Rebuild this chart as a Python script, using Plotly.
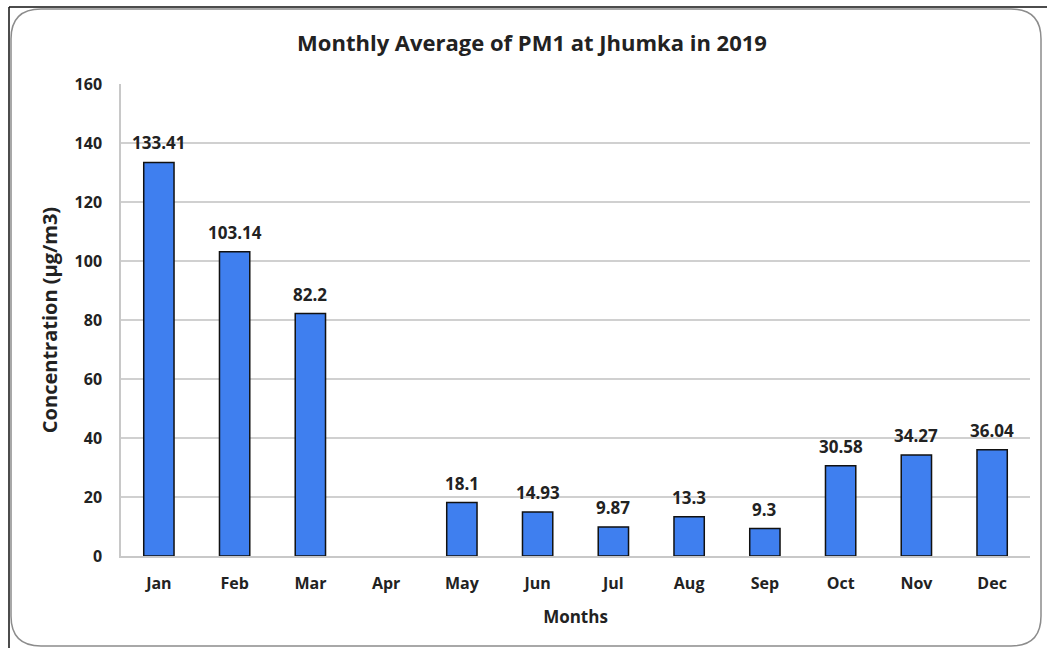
import plotly.graph_objects as go

months = ["Jan", "Feb", "Mar", "Apr", "May", "Jun", "Jul", "Aug", "Sep", "Oct", "Nov", "Dec"]
pm1 = [133.41, 103.14, 82.2, None, 18.1, 14.93, 9.87, 13.3, 9.3, 30.58, 34.27, 36.04]
labels = ["133.41", "103.14", "82.2", "", "18.1", "14.93", "9.87", "13.3", "9.3", "30.58", "34.27", "36.04"]
y_ticks = [0, 20, 40, 60, 80, 100, 120, 140, 160]

W, H = 1047, 648
L, R, T, B = 121, 17, 84, 92
pw, ph = W - L - R, H - T - B

def px(x):
    return (x - L) / pw

def py(y):
    return (H - B - y) / ph

font_family = "Open Sans, Carlito, Liberation Sans, sans-serif"
txt = "#222222"

fig = go.Figure()
fig.add_trace(go.Bar(
    x=months, y=pm1, width=0.4,
    marker=dict(color="#3f7fef", line=dict(color="#111111", width=1.5)),
    hoverinfo="x+y",
))

for m, v, t in zip(months, pm1, labels):
    if v is None:
        continue
    fig.add_annotation(x=m, y=v, text=t, showarrow=False,
                       yanchor="bottom", yshift=6,
                       font=dict(family=font_family, size=17, color=txt, weight="bold"))

# outer rounded border
x0, y0, x1, y1 = px(11), py(9), px(1041), py(646)
rx = 30 / pw
ry = 30 / ph
path = (f"M {x0+rx},{y0} L {x1-rx},{y0} Q {x1},{y0} {x1},{y0-ry} L {x1},{y1+ry} Q {x1},{y1} {x1-rx},{y1} "
        f"L {x0+rx},{y1} Q {x0},{y1} {x0},{y1+ry} L {x0},{y0-ry} Q {x0},{y0} {x0+rx},{y0} Z")
fig.add_shape(type="path", path=path, xref="paper", yref="paper",
              line=dict(color="#8c8c8c", width=1.5), layer="below")
fig.add_shape(type="line", xref="paper", yref="paper", x0=px(9), x1=px(1047), y0=py(7), y1=py(7),
              line=dict(color="#111111", width=1.5))
fig.add_shape(type="line", xref="paper", yref="paper", x0=px(9), x1=px(9), y0=py(7), y1=py(648),
              line=dict(color="#111111", width=1.5))

fig.update_layout(
    width=W, height=H,
    margin=dict(l=L, r=R, t=T, b=B, autoexpand=False),
    paper_bgcolor="white", plot_bgcolor="white",
    showlegend=False,
    title=dict(text="Monthly Average of PM1 at Jhumka in 2019",
               x=px(532), xref="paper", xanchor="center", y=1 - 43 / H, yanchor="middle",
               font=dict(family=font_family, size=22, color=txt, weight="bold")),
    font=dict(family=font_family, color=txt),
    bargap=0.6,
)
fig.update_xaxes(
    categoryorder="array", categoryarray=months,
    tickfont=dict(family=font_family, size=16, color=txt, weight="bold"),
    showline=True, linecolor="#c8c8c8", linewidth=2,
    ticks="", ticklabelstandoff=12, automargin=False,
    title=dict(text="Months", font=dict(family=font_family, size=17, color=txt, weight="bold"), standoff=18),
    fixedrange=True,
)
fig.update_yaxes(
    range=[0, 160], tickvals=y_ticks,
    tickfont=dict(family=font_family, size=16, color=txt, weight="bold"),
    showgrid=True, gridcolor="#d0d0d0", gridwidth=2,
    showline=True, linecolor="#c8c8c8", linewidth=1.5,
    zeroline=False, ticks="", ticklabelstandoff=14, automargin=False,
    title=dict(text="Concentration (µg/m3)", font=dict(family=font_family, size=20, color=txt, weight="bold"), standoff=12),
    fixedrange=True,
)

fig.write_html("out.html", config={"displayModeBar": False},
               post_script="document.body.style.margin='0';")
